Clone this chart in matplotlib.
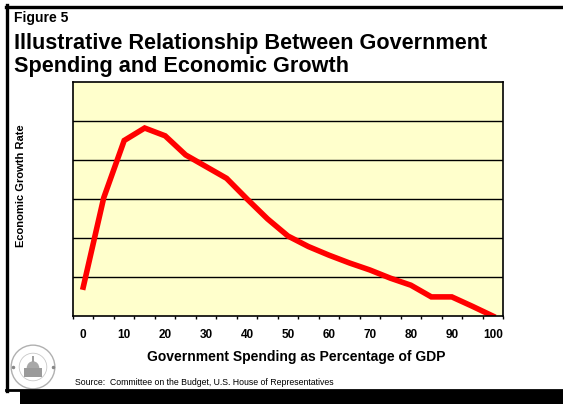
import numpy as np
import matplotlib.pyplot as plt
from matplotlib.patches import Rectangle, Circle, Ellipse
from matplotlib.lines import Line2D

plt.rcParams['font.family'] = ['Liberation Sans', 'DejaVu Sans']

# spending share of GDP (category axis) and illustrative growth rate
spending = [0, 5, 10, 15, 20, 25, 30, 35, 40, 45, 50,
            55, 60, 65, 70, 75, 80, 85, 90, 95, 100]
growth = [0.74, 3.03, 4.5, 4.82, 4.62, 4.13, 3.83, 3.53, 3.0, 2.49, 2.05,
          1.78, 1.56, 1.36, 1.18, 0.97, 0.79, 0.49, 0.49, 0.25, 0.0]
tick_labels = ['0', '10', '20', '30', '40', '50', '60', '70', '80', '90', '100']

W, H = 563, 404
fig = plt.figure(figsize=(W / 100, H / 100), dpi=100)


def fx(px):
    return px / W


def fy(py):
    return 1 - py / H


# outer frame with drop shadow along the bottom
fig.add_artist(Line2D([fx(7.5), fx(7.5)], [fy(5), fy(391)], color='black', lw=2.4))
fig.add_artist(Line2D([fx(6), fx(563)], [fy(6.5), fy(6.5)], color='black', lw=2.4))
fig.add_artist(Line2D([fx(6), fx(563)], [fy(389.5), fy(389.5)], color='black', lw=2.0))
fig.add_artist(Rectangle((fx(20), 0), fx(543), fy(390), color='black', lw=0))

fig.text(fx(14), fy(22), 'Figure 5', fontsize=10, fontweight='bold', va='baseline')
fig.text(fx(14), fy(48.5), 'Illustrative Relationship Between Government',
         fontsize=15.6, fontweight='bold', va='baseline')
fig.text(fx(14), fy(72), 'Spending and Economic Growth',
         fontsize=15.6, fontweight='bold', va='baseline')

ax = fig.add_axes([fx(73), fy(316), fx(503) - fx(73), fy(82) - fy(316)])
ax.set_facecolor('#FFFFCC')
x = np.arange(len(spending))
ax.plot(x, growth, color='#FF0000', lw=4.0, solid_joinstyle='miter')

ax.set_xlim(-0.5, len(spending) - 0.5)
ax.set_ylim(0, 6)
ax.set_yticks([])
for g in range(1, 6):
    ax.axhline(g, color='black', lw=1.0, zorder=1)

ax.set_xticks(x[::2])
ax.set_xticklabels(tick_labels, fontsize=8.5, fontweight='bold')
ax.set_xticks(np.arange(-0.5, len(spending)), minor=True)
ax.tick_params(axis='x', which='major', length=0, pad=9)
ax.tick_params(axis='x', which='minor', length=2.5, width=1, direction='out')
for s in ax.spines.values():
    s.set_linewidth(1.2)

fig.text(fx(296), fy(361), 'Government Spending as Percentage of GDP',
         fontsize=10, fontweight='bold', ha='center', va='baseline')
fig.text(fx(21), fy(186), 'Economic Growth Rate', fontsize=8, fontweight='bold',
         rotation=90, ha='center', va='center')
fig.text(fx(75), fy(385), 'Source:  Committee on the Budget, U.S. House of Representatives',
         fontsize=6.3, va='baseline')

# committee seal
seal = fig.add_axes([fx(9), fy(390), fx(48), fy(344) - fy(390)])
seal.set_xlim(-1, 1)
seal.set_ylim(-1, 1)
seal.set_aspect('equal')
seal.axis('off')
seal.add_patch(Circle((0, 0), 0.95, fill=False, ec='#b0b0b0', lw=1.0))
seal.add_patch(Circle((0, 0), 0.6, fill=False, ec='#c8c8c8', lw=0.6))
seal.add_patch(Ellipse((0, -0.05), 0.55, 0.6, color='#a8a8a8', lw=0))
seal.add_patch(Rectangle((-0.4, -0.45), 0.8, 0.4, color='#9a9a9a', lw=0))
seal.add_patch(Rectangle((-0.03, 0.2), 0.06, 0.3, color='#a0a0a0', lw=0))
seal.plot([-0.85, 0.85], [0, 0], ls='none', marker='o', ms=1.5, color='#888888')

fig.savefig('out.png', dpi=100)
